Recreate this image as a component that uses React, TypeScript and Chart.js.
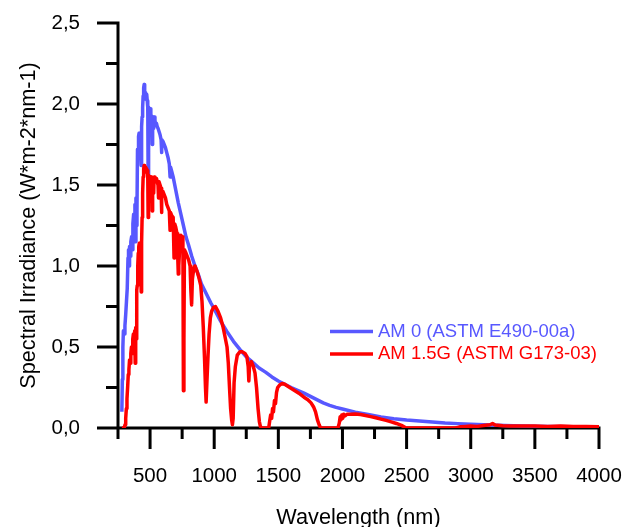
import React, { useEffect, useRef } from 'react';
import { Chart, registerables } from 'chart.js';

Chart.register(...registerables);

const seriesLabels = ['AM 0 (ASTM E490-00a)', 'AM 1.5G (ASTM G173-03)'];
const xTitle = 'Wavelength (nm)';
const yTitle = 'Spectral Irradiance (W*m-2*nm-1)';
const xTickLabels = [500, 1000, 1500, 2000, 2500, 3000, 3500, 4000];
const yTickLabels = [0, 0.5, 1.0, 1.5, 2.0, 2.5];

const am0Wavelength = [
  280, 284, 288, 292, 298, 304, 310, 316, 322, 328, 332, 336, 340, 344, 350, 356, 360, 366, 372, 378,
  382, 386, 390, 394, 398, 402, 406, 410, 414, 418, 422, 426, 430, 434, 438, 442, 446, 450, 454, 458,
  462, 466, 470, 474, 478, 482, 485, 487, 490, 494, 498, 502, 506, 510, 514, 517, 520, 524, 528, 532,
  538, 544, 550, 556, 562, 570, 578, 586, 589, 592, 600, 610, 620, 630, 640, 650, 656, 660, 670, 680,
  690, 700, 720, 740, 760, 780, 800, 825, 850, 875, 900, 925, 950, 975, 1000, 1050, 1100, 1150, 1200, 1250,
  1300, 1350, 1400, 1450, 1500, 1550, 1600, 1650, 1700, 1750, 1800, 1850, 1900, 1950, 2000, 2100, 2200, 2300, 2400, 2500,
  2600, 2700, 2800, 2900, 3000, 3200, 3400, 3600, 3800, 4000,
];
const am0Irradiance = [
  0.10, 0.30, 0.50, 0.60, 0.58, 0.63, 0.70, 0.78, 0.86, 1.05, 1.10, 1.00, 1.12, 1.06, 1.15, 1.18, 1.10, 1.26, 1.32, 1.22,
  1.38, 1.15, 1.42, 1.25, 1.35, 1.72, 1.70, 1.80, 1.82, 1.79, 1.80, 1.74, 1.62, 1.86, 1.92, 1.98, 2.05, 2.10, 2.12, 2.08,
  2.07, 2.03, 2.04, 2.06, 2.02, 1.98, 1.55, 1.62, 1.98, 1.96, 1.93, 1.97, 1.94, 1.92, 1.88, 1.75, 1.90, 1.92, 1.85, 1.92,
  1.90, 1.87, 1.88, 1.86, 1.85, 1.83, 1.81, 1.78, 1.70, 1.78, 1.77, 1.75, 1.73, 1.70, 1.67, 1.63, 1.55, 1.61, 1.58, 1.55,
  1.51, 1.47, 1.39, 1.32, 1.25, 1.18, 1.13, 1.06, 1.00, 0.95, 0.89, 0.85, 0.81, 0.77, 0.735, 0.66, 0.595, 0.535, 0.485, 0.44,
  0.405, 0.37, 0.345, 0.315, 0.29, 0.27, 0.25, 0.233, 0.215, 0.195, 0.175, 0.155, 0.14, 0.127, 0.117, 0.098, 0.083, 0.068, 0.057, 0.049,
  0.043, 0.037, 0.031, 0.027, 0.023, 0.017, 0.013, 0.010, 0.008, 0.007,
];

const am15Wavelength = [
  280, 296, 300, 305, 310, 315, 320, 325, 330, 335, 340, 345, 350, 355, 360, 365, 370, 375, 380, 384,
  388, 392, 396, 400, 404, 408, 412, 416, 420, 424, 428, 431, 434, 438, 442, 446, 450, 454, 458, 462,
  466, 470, 474, 478, 482, 485, 487, 490, 494, 498, 502, 506, 510, 514, 517, 520, 524, 528, 532, 538,
  544, 550, 556, 562, 566, 570, 578, 586, 589, 592, 600, 610, 620, 630, 640, 650, 656, 660, 670, 680,
  687, 692, 700, 710, 716, 720, 724, 730, 740, 750, 756, 760, 764, 768, 780, 800, 812, 818, 824, 830,
  840, 850, 865, 880, 895, 905, 915, 925, 932, 937, 944, 952, 960, 970, 980, 995, 1010, 1030, 1050, 1070,
  1085, 1100, 1110, 1120, 1128, 1136, 1142, 1148, 1155, 1165, 1180, 1200, 1220, 1240, 1255, 1265, 1270, 1275, 1290, 1305,
  1318, 1330, 1342, 1352, 1360, 1370, 1425, 1432, 1440, 1448, 1455, 1462, 1470, 1478, 1486, 1495, 1510, 1530, 1550, 1580,
  1620, 1660, 1700, 1730, 1755, 1775, 1790, 1805, 1818, 1830, 1965, 1975, 1982, 1988, 1995, 2002, 2010, 2020, 2035, 2060,
  2100, 2140, 2180, 2220, 2260, 2300, 2340, 2380, 2420, 2460, 2490, 2500, 2880, 2900, 2920, 2960, 3000, 3050, 3100, 3150,
  3170, 3190, 3250, 3300, 3400, 3500, 3600, 3700, 3800, 3900, 4000,
];
const am15Irradiance = [
  0, 0, 0.005, 0.02, 0.06, 0.12, 0.18, 0.25, 0.33, 0.36, 0.42, 0.40, 0.46, 0.50, 0.46, 0.55, 0.58, 0.50, 0.60, 0.40,
  0.62, 0.55, 0.85, 0.88, 1.00, 1.08, 1.12, 1.14, 1.12, 1.10, 0.95, 0.84, 1.15, 1.30, 1.45, 1.55, 1.60, 1.62, 1.60, 1.58,
  1.61, 1.60, 1.58, 1.59, 1.55, 1.30, 1.35, 1.56, 1.55, 1.52, 1.55, 1.53, 1.55, 1.50, 1.34, 1.50, 1.53, 1.45, 1.55, 1.54,
  1.52, 1.54, 1.52, 1.50, 1.42, 1.52, 1.50, 1.48, 1.33, 1.45, 1.46, 1.44, 1.42, 1.38, 1.36, 1.34, 1.22, 1.33, 1.31, 1.30,
  1.05, 1.26, 1.24, 1.20, 1.05, 0.95, 1.00, 1.10, 1.19, 1.18, 1.15, 0.23, 0.55, 1.10, 1.08, 1.04, 1.00, 0.85, 0.76, 0.92,
  0.98, 1.00, 0.97, 0.93, 0.88, 0.78, 0.62, 0.42, 0.25, 0.16, 0.30, 0.45, 0.58, 0.68, 0.72, 0.745, 0.75, 0.72, 0.68, 0.62,
  0.56, 0.50, 0.40, 0.24, 0.12, 0.05, 0.02, 0.06, 0.28, 0.38, 0.45, 0.47, 0.47, 0.46, 0.44, 0.38, 0.29, 0.38, 0.41, 0.38,
  0.34, 0.25, 0.12, 0.04, 0.01, 0, 0, 0.04, 0.08, 0.06, 0.12, 0.10, 0.17, 0.15, 0.22, 0.25, 0.265, 0.275, 0.27, 0.255,
  0.235, 0.215, 0.19, 0.175, 0.155, 0.13, 0.10, 0.05, 0.02, 0, 0, 0.03, 0.07, 0.05, 0.08, 0.06, 0.085, 0.075, 0.085, 0.085,
  0.087, 0.083, 0.077, 0.07, 0.063, 0.055, 0.047, 0.038, 0.028, 0.016, 0.003, 0, 0, 0.004, 0.008, 0.01, 0.012, 0.01, 0.015, 0.02,
  0.028, 0.018, 0.014, 0.012, 0.013, 0.012, 0.010, 0.012, 0.009, 0.010, 0.008,
];

const BLUE = 'rgb(88, 88, 255)';
const RED = 'rgb(255, 0, 0)';
const FONT = 'Liberation Sans, Arial, sans-serif';

const axesPlugin = {
  id: 'originAxes',
  beforeDatasetsDraw(chart: any) {
    const { ctx, chartArea, scales } = chart;
    const xs = scales.x;
    const ys = scales.y;
    const left = chartArea.left;
    const zeroY = ys.getPixelForValue(0);
    ctx.save();
    ctx.strokeStyle = '#000';
    ctx.lineWidth = 3;
    ctx.lineCap = 'butt';
    ctx.beginPath();
    ctx.moveTo(left, ys.getPixelForValue(2.5) - 1.5);
    ctx.lineTo(left, zeroY);
    ctx.moveTo(left - 1.5, zeroY);
    ctx.lineTo(chartArea.right + 1.5, zeroY);
    for (let v = 250; v <= 4000; v += 250) {
      const px = xs.getPixelForValue(v);
      const len = v % 500 === 0 ? 21 : 11;
      ctx.moveTo(px, zeroY);
      ctx.lineTo(px, zeroY + len);
    }
    for (let i = 0; i <= 10; i++) {
      const v = i * 0.25;
      const py = ys.getPixelForValue(v);
      const len = i % 2 === 0 ? 21 : 12;
      ctx.moveTo(left - len, py);
      ctx.lineTo(left, py);
    }
    ctx.stroke();
    ctx.restore();
  },
};

const legendPlugin = {
  id: 'insideLegend',
  afterDraw(chart: any) {
    const { ctx } = chart;
    const rows = [331.5, 354];
    ctx.save();
    ctx.font = `18.5px ${FONT}`;
    ctx.textBaseline = 'middle';
    ctx.textAlign = 'left';
    chart.data.datasets.forEach((ds: any, i: number) => {
      const y = rows[i];
      ctx.strokeStyle = ds.borderColor;
      ctx.lineWidth = 3.5;
      ctx.beginPath();
      ctx.moveTo(330, y);
      ctx.lineTo(373, y);
      ctx.stroke();
      ctx.fillStyle = ds.borderColor;
      ctx.fillText(ds.label, 378, y);
    });
    ctx.restore();
  },
};

function clearScalePadding(scale: any) {
  scale.paddingLeft = 0;
  scale.paddingRight = 0;
  scale.paddingTop = 0;
  scale.paddingBottom = 0;
}

export default function App() {
  const canvasRef = useRef<HTMLCanvasElement | null>(null);

  useEffect(() => {
    const canvas = canvasRef.current;
    if (!canvas) return;
    const chart = new Chart(canvas, {
      type: 'line',
      data: {
        datasets: [
          {
            label: seriesLabels[0],
            data: am0Wavelength.map((w, i) => ({ x: w, y: am0Irradiance[i] })),
            borderColor: BLUE,
            backgroundColor: BLUE,
            borderWidth: 3.5,
            pointRadius: 0,
            fill: false,
            tension: 0,
            borderJoinStyle: 'round',
            order: 2,
          },
          {
            label: seriesLabels[1],
            data: am15Wavelength.map((w, i) => ({ x: w, y: am15Irradiance[i] })),
            borderColor: RED,
            backgroundColor: RED,
            borderWidth: 3.5,
            pointRadius: 0,
            fill: false,
            tension: 0,
            borderJoinStyle: 'round',
            order: 1,
          },
        ],
      },
      options: {
        animation: false,
        responsive: false,
        devicePixelRatio: 1,
        layout: { padding: { top: 23, right: 26, left: 0, bottom: 0 } },
        plugins: {
          legend: { display: false },
          tooltip: { enabled: false },
        },
        scales: {
          x: {
            type: 'linear',
            min: 250,
            max: 4000,
            afterFit(scale: any) {
              scale.height = 99;
              clearScalePadding(scale);
            },
            grid: { display: false, drawTicks: false },
            border: { display: false },
            ticks: {
              stepSize: 250,
              autoSkip: false,
              maxRotation: 0,
              padding: 36,
              color: '#000',
              font: { family: FONT, size: 20.5 },
              callback: (v: any) => (xTickLabels.includes(Number(v)) ? String(v) : ''),
            },
            title: {
              display: true,
              text: xTitle,
              color: '#000',
              font: { family: FONT, size: 21.7, lineHeight: 1 },
              padding: { top: 0, bottom: -2 },
            },
          },
          y: {
            type: 'linear',
            min: 0,
            max: 2.5,
            afterFit(scale: any) {
              scale.width = 118;
              clearScalePadding(scale);
            },
            grid: { display: false, drawTicks: false },
            border: { display: false },
            ticks: {
              stepSize: 0.25,
              autoSkip: false,
              padding: 38,
              color: '#000',
              font: { family: FONT, size: 20.5 },
              callback: (v: any) => {
                const n = Number(v);
                const hit = yTickLabels.find((t) => Math.abs(t - n) < 1e-6);
                return hit === undefined ? '' : hit.toFixed(1).replace('.', ',');
              },
            },
            title: {
              display: true,
              text: yTitle,
              color: '#000',
              font: { family: FONT, size: 21.7, lineHeight: 1 },
              padding: { top: 18.5, bottom: 0 },
            },
          },
        },
      },
      plugins: [axesPlugin, legendPlugin],
    });
    return () => chart.destroy();
  }, []);

  return (
    <div style={{ position: 'fixed', left: 0, top: 0, width: 625, height: 527, background: '#fff' }}>
      <canvas ref={canvasRef} width={625} height={527} style={{ width: 625, height: 527, display: 'block' }} />
    </div>
  );
}
